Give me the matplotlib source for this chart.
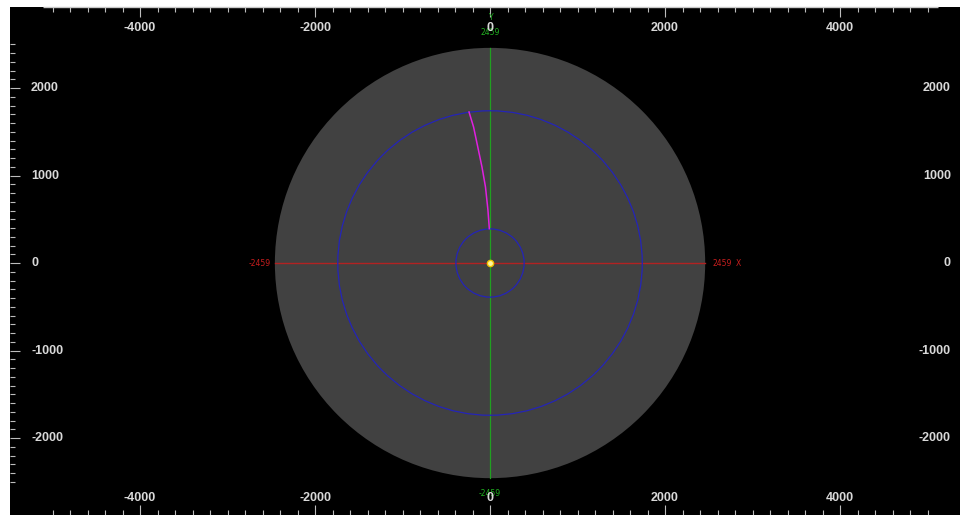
import matplotlib
matplotlib.use("Agg")
import matplotlib.pyplot as plt
from matplotlib.patches import Circle
import numpy as np

# ---- data ----
disk_radius = 2459
ring_radii = [1740, 390]
x_major = [-4000, -2000, 0, 2000, 4000]
y_major = [2000, 1000, 0, -1000, -2000]
x_minor = list(range(-5000, 5001, 200))
y_minor = list(range(-2500, 2501, 100))
path_x = [-240, -188, -140, -92, -52, -24, -8]
path_y = [1726, 1554, 1326, 1097, 869, 606, 392]
center = (0, 0)

fig = plt.figure(figsize=(9.6, 5.15), dpi=100, facecolor="white")
ax = fig.add_axes([10 / 960, 0, 950 / 960, 508 / 515])
ax.set_facecolor("black")
ax.set_xlim(-5486, 5371)
ax.set_ylim(-2880, 2926)
ax.set_aspect("equal", adjustable="box")
for s in ax.spines.values():
    s.set_visible(False)

# ticks
ax.set_xticks(x_major)
ax.set_xticks(x_minor, minor=True)
ax.set_yticks(y_major)
ax.set_yticks(y_minor, minor=True)
tc = "#bdbdbd"
ax.tick_params(axis="both", which="both", direction="in", color=tc,
               labelbottom=False, labeltop=False, labelleft=False, labelright=False,
               top=True, bottom=True, left=True, right=False, width=0.8)
ax.tick_params(which="major", length=7.2)
ax.tick_params(which="minor", length=3.6)

# top border line
ax.hlines(2926, -5110, 5120, color="#c8c8c8", lw=1.0, clip_on=False, zorder=5)

# disk
ax.add_patch(Circle(center, disk_radius, facecolor="#414141", edgecolor="none", zorder=1))
for r in ring_radii:
    ax.add_patch(Circle(center, r, facecolor="none", edgecolor="#2424b8", lw=0.9, zorder=3))
ax.plot([-disk_radius, disk_radius], [0, 0], color="#b22222", lw=1.0, zorder=2)
ax.plot([0, 0], [-disk_radius, disk_radius], color="#20a020", lw=0.9, zorder=2)
ax.plot(path_x, path_y, color="#e020e0", lw=1.1, zorder=4)
ax.plot([center[0]], [center[1]], marker="o", ms=4.5, mfc="#fff7a0", mec="#f0c000",
        mew=1.0, zorder=6)

# tick labels (drawn inside)
lc = "#d9d9d9"
fp = dict(family=["Liberation Sans", "DejaVu Sans"], weight="bold", size=9, color=lc)
xt = ax.get_xaxis_transform()
yt = ax.get_yaxis_transform()
for v in x_major:
    ax.text(v, 1 - 21 / 508, f"{v}", transform=xt, ha="center", va="center", zorder=7, **fp)
    ax.text(v, 17 / 508, f"{v}", transform=xt, ha="center", va="center", zorder=7, **fp)
for v in y_major:
    ax.text(21 / 950, v, f"{v}", transform=yt, ha="left", va="center", **fp)
    ax.text(941 / 950, v, f"{v}", transform=yt, ha="right", va="center", **fp)

# axis annotations
sp = dict(family=["DejaVu Sans"], size=5.5)
ax.text(-disk_radius - 45, 0, f"-{disk_radius}", color="#c81e1e", ha="right", va="center", **sp)
ax.text(disk_radius + 78, 0, f"{disk_radius}", color="#c81e1e", ha="left", va="center", **sp)
ax.text(2810, 0, "X", color="#c81e1e", ha="left", va="center", **sp)
ax.text(20, 2811, "Y", color="#20b020", ha="center", va="center", **sp)
ax.text(0, 2640, f"{disk_radius}", color="#20b020", ha="center", va="center", zorder=6, **sp)
ax.text(0, -2629, f"-{disk_radius}", color="#20b020", ha="center", va="center", **sp)

fig.savefig("out.png", dpi=100, facecolor="white")
